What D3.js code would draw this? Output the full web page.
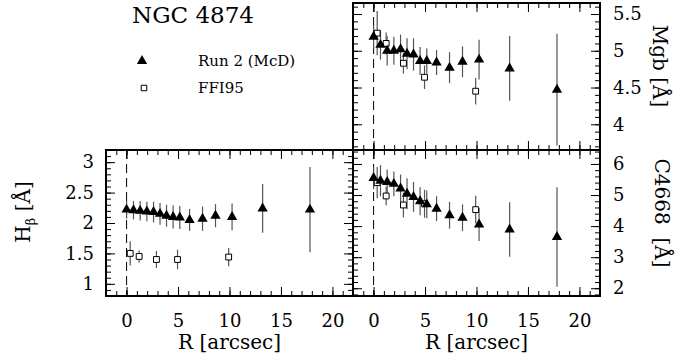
<!DOCTYPE html>
<html><head><meta charset="utf-8">
<script src="https://cdn.jsdelivr.net/npm/d3@7"></script>
<style>
body{margin:0;background:#fff;}
svg{display:block;}
text{font-family:"DejaVu Serif",serif;fill:#000;}
</style></head>
<body>
<svg id="c" width="690" height="357"></svg>
<script>
// ---- data ----
const title = "NGC 4874";
const seriesNames = ["Run 2 (McD)", "FFI95"];
const rRun = [0.0, 0.67, 1.32, 1.97, 2.62, 3.25, 3.88, 4.52, 5.17, 6.12, 7.38, 8.64, 10.25, 13.22, 17.82];
const hbRun = [2.22, 2.21, 2.20, 2.19, 2.18, 2.15, 2.12, 2.10, 2.09, 2.05, 2.07, 2.12, 2.10, 2.24, 2.22];
const hbRunErr = [0.15, 0.15, 0.16, 0.16, 0.17, 0.18, 0.18, 0.19, 0.19, 0.18, 0.20, 0.19, 0.22, 0.40, 0.70];
const mgbRun = [5.19, 5.08, 5.00, 5.00, 5.02, 4.96, 4.95, 4.86, 4.86, 4.84, 4.77, 4.85, 4.88, 4.76, 4.47];
const mgbRunErr = [0.16, 0.20, 0.20, 0.19, 0.20, 0.21, 0.22, 0.19, 0.17, 0.17, 0.21, 0.21, 0.27, 0.44, 0.76];
const c4668Run = [5.55, 5.46, 5.42, 5.36, 5.21, 5.04, 4.94, 4.80, 4.70, 4.56, 4.35, 4.27, 4.05, 3.89, 3.65];
const c4668RunErr = [0.36, 0.50, 0.40, 0.40, 0.45, 0.50, 0.48, 0.45, 0.45, 0.40, 0.43, 0.43, 0.53, 0.88, 1.60];
const rFfi = [0.35, 1.22, 2.90, 4.95, 9.92];
const hbFfi = [1.50, 1.45, 1.40, 1.40, 1.44];
const hbFfiErr = [0.20, 0.10, 0.14, 0.16, 0.15];
const mgbFfi = [5.24, 5.10, 4.83, 4.64, 4.45];
const mgbFfiErr = [0.30, 0.15, 0.14, 0.16, 0.18];
const c4668Ffi = [5.40, 4.97, 4.68, 4.72, 4.53];
const c4668FfiErr = [0.50, 0.30, 0.40, 0.45, 0.45];
const xTicks = [0, 5, 10, 15, 20];
const hbTicks = [1, 1.5, 2, 2.5, 3];
const mgbTicks = [4, 4.5, 5, 5.5];
const c4668Ticks = [2, 3, 4, 5, 6];

// ---- drawing ----
const svg = d3.select("#c");
const fmt = d3.format("~g");
const XL = [106, 353], XR = [353, 600];
const YT = [150, 3], YB = [296, 150];

function panel(opt) {
  const x = d3.scaleLinear([-2, 22], opt.xr);
  const y = d3.scaleLinear(opt.yd, opt.yr);
  const g = svg.append("g");
  const [x0, x1] = opt.xr, [y1, y0] = opt.yr;
  const xMinor = d3.range(-2, 23, 1);
  const yMinor = d3.range(Math.ceil(opt.yd[0] / opt.ystep - 1e-9) * opt.ystep, opt.yd[1] + 1e-9, opt.ystep).map(v => +v.toFixed(3));
  function addAxis(axisFn, scale, ticks, len, transform, labels, pad) {
    const a = axisFn(scale).tickValues(ticks).tickSize(-len).tickPadding(pad || 0)
      .tickFormat(labels ? fmt : "");
    const ga = g.append("g").attr("transform", transform).call(a);
    ga.select(".domain").remove();
    ga.selectAll("line").attr("stroke", "#000").attr("stroke-width", 1);
    ga.selectAll("text").style("font-family", "DejaVu Serif").style("font-size", "18px").attr("fill", "#000");
    return ga;
  }
  // x minor / major ticks bottom & top
  addAxis(d3.axisBottom, x, xMinor, 5, `translate(0,${y1})`, false);
  addAxis(d3.axisBottom, x, xTicks, 9, `translate(0,${y1})`, opt.xLabels, 18);
  addAxis(d3.axisTop, x, xMinor, 5, `translate(0,${y0})`, false);
  addAxis(d3.axisTop, x, xTicks, 9, `translate(0,${y0})`, false);
  // y minor/major left & right
  addAxis(d3.axisLeft, y, yMinor, 5, `translate(${x0},0)`, false);
  addAxis(d3.axisLeft, y, opt.yTicks, 9, `translate(${x0},0)`, opt.side === "left", 12);
  addAxis(d3.axisRight, y, yMinor, 5, `translate(${x1},0)`, false);
  addAxis(d3.axisRight, y, opt.yTicks, 9, `translate(${x1},0)`, opt.side === "right", 13);
  // frame
  g.append("rect").attr("x", x0).attr("y", y0).attr("width", x1 - x0).attr("height", y1 - y0)
    .attr("fill", "none").attr("stroke", "#000").attr("stroke-width", 2);
  // dashed zero line
  g.append("line").attr("x1", x(0)).attr("x2", x(0)).attr("y1", y0).attr("y2", y1)
    .attr("stroke", "#000").attr("stroke-width", 1).attr("stroke-dasharray", "9,5");
  // error bars
  const eb = (rs, vs, es) => rs.map((r, i) => ({r, v: vs[i], e: es[i]}));
  const all = eb(opt.rFfi, opt.ffi, opt.ffiErr).concat(eb(rRun, opt.run, opt.runErr));
  g.append("g").selectAll("line").data(all).join("line")
    .attr("x1", d => x(d.r)).attr("x2", d => x(d.r))
    .attr("y1", d => Math.max(y0, y(d.v + d.e))).attr("y2", d => Math.min(y1, y(d.v - d.e)))
    .attr("stroke", "#555").attr("stroke-width", 1.2);
  // squares
  g.append("g").selectAll("path").data(eb(opt.rFfi, opt.ffi, opt.ffiErr)).join("path")
    .attr("d", d3.symbol(d3.symbolSquare, 34))
    .attr("transform", d => `translate(${x(d.r)},${y(d.v)})`)
    .attr("fill", "#fff").attr("stroke", "#000").attr("stroke-width", 1);
  // triangles
  g.append("g").selectAll("path").data(eb(rRun, opt.run, opt.runErr)).join("path")
    .attr("d", d3.symbol(d3.symbolTriangle, 46))
    .attr("transform", d => `translate(${x(d.r)},${y(d.v)})`)
    .attr("fill", "#000");
  return {x, y};
}

panel({xr: XR, yr: YT, yd: [3.65, 5.65], ystep: 0.1, yTicks: mgbTicks, side: "right", xLabels: false,
  run: mgbRun, runErr: mgbRunErr, rFfi, ffi: mgbFfi, ffiErr: mgbFfiErr});
panel({xr: XL, yr: YB, yd: [0.8, 3.2], ystep: 0.1, yTicks: hbTicks, side: "left", xLabels: true,
  run: hbRun, runErr: hbRunErr, rFfi, ffi: hbFfi, ffiErr: hbFfiErr});
panel({xr: XR, yr: YB, yd: [1.75, 6.45], ystep: 0.2, yTicks: c4668Ticks, side: "right", xLabels: true,
  run: c4668Run, runErr: c4668RunErr, rFfi, ffi: c4668Ffi, ffiErr: c4668FfiErr});

// axis titles
svg.append("text").attr("x", (XL[0] + XL[1]) / 2).attr("y", 349).attr("text-anchor", "middle")
  .style("font-size", "20px").text("R [arcsec]");
svg.append("text").attr("x", (XR[0] + XR[1]) / 2).attr("y", 349).attr("text-anchor", "middle")
  .style("font-size", "20px").text("R [arcsec]");
const hb = svg.append("text").attr("transform", "translate(30,212) rotate(-90)").attr("text-anchor", "middle")
  .style("font-size", "20px");
hb.append("tspan").text("H");
hb.append("tspan").attr("dy", 5).style("font-size", "13px").text("β");
hb.append("tspan").attr("dy", -5).text(" [Å]");
svg.append("text").attr("transform", "translate(653,66) rotate(90)").attr("text-anchor", "middle")
  .style("font-size", "20px").text("Mgb [Å]");
svg.append("text").attr("transform", "translate(655,213) rotate(90)").attr("text-anchor", "middle")
  .style("font-size", "20px").style("white-space", "pre").text("C4668  [Å]");

// title & legend
svg.append("text").attr("x", 132).attr("y", 23).style("font-size", "23px").text(title);
svg.append("path").attr("d", d3.symbol(d3.symbolTriangle, 46)).attr("transform", "translate(142,61)").attr("fill", "#000");
svg.append("text").attr("x", 198).attr("y", 66).style("font-size", "15px").text(seriesNames[0]);
svg.append("path").attr("d", d3.symbol(d3.symbolSquare, 30)).attr("transform", "translate(144,88)")
  .attr("fill", "#fff").attr("stroke", "#000").attr("stroke-width", 1);
svg.append("text").attr("x", 198).attr("y", 93).style("font-size", "15px").text(seriesNames[1]);
</script>
</body></html>
